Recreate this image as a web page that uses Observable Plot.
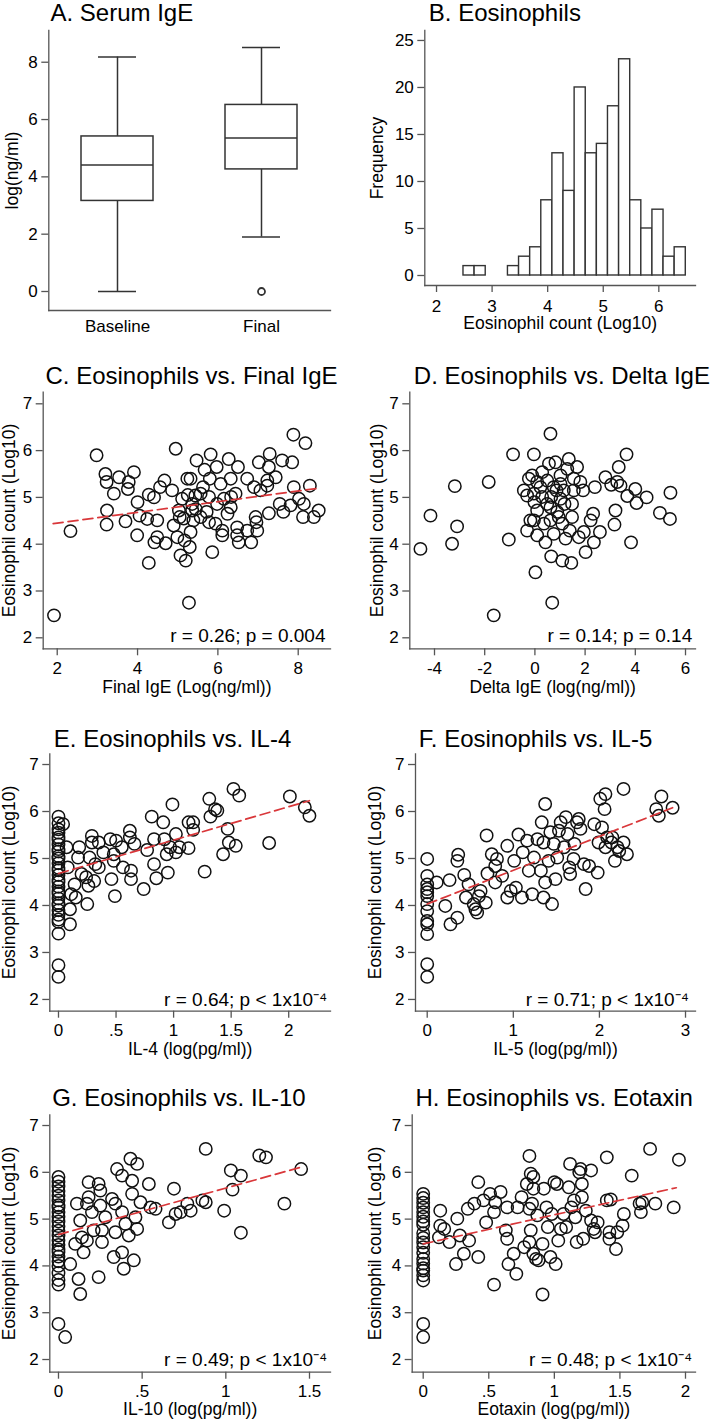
<!DOCTYPE html>
<html><head><meta charset="utf-8">
<script src="https://cdn.jsdelivr.net/npm/d3@7"></script>
<script src="https://cdn.jsdelivr.net/npm/@observablehq/plot@0.6"></script>
<style>
body{margin:0;background:#fff}
#root{position:relative;width:719px;height:1422px;overflow:hidden;background:#fff}
.panel{position:absolute}
.panel svg{display:block;overflow:visible}
</style></head><body><div id="root"></div>
<script>
// ---------- DATA ----------
// A. Serum IgE box plot statistics
const boxCats = ["Baseline", "Final"];
const boxMin = [0, 1.9];
const boxQ1 = [3.16, 4.26];
const boxMed = [4.41, 5.36];
const boxQ3 = [5.41, 6.51];
const boxMax = [8.18, 8.51];
const boxOutCat = ["Final"];
const boxOutVal = [0];
const boxTicks = [0, 2, 4, 6, 8];

// B. Eosinophil histogram (bin edges and frequencies)
const binLo = [2.485, 2.685, 3.285, 3.485, 3.685, 3.885, 4.085, 4.285, 4.485, 4.685, 4.885, 5.085, 5.285, 5.485, 5.685, 5.885, 6.085, 6.285];
const binHi = [2.685, 2.885, 3.485, 3.685, 3.885, 4.085, 4.285, 4.485, 4.685, 4.885, 5.085, 5.285, 5.485, 5.685, 5.885, 6.085, 6.285, 6.485];
const binN  = [1, 1, 1, 2, 3, 8, 13, 9, 20, 13, 14, 18, 23, 8, 5, 7, 2, 3];
const histXTicks = [2, 3, 4, 5, 6];
const histYTicks = [0, 5, 10, 15, 20, 25];

const eosTicks = [2, 3, 4, 5, 6, 7];

// C. Eosinophils vs Final IgE
const cX = [1.92,2.33,2.98,3.20,3.23,3.24,3.23,3.41,3.54,3.76,3.78,3.91,3.70,4.00,3.99,4.05,4.24,4.28,4.28,4.41,4.49,4.42,4.49,4.56,4.67,4.70,4.95,4.86,5.11,5.03,5.05,4.99,5.07,5.20,5.28,5.24,5.32,5.36,5.36,5.39,5.32,5.30,5.17,5.47,5.44,5.63,5.67,5.78,5.80,5.82,5.72,5.78,5.86,5.94,5.97,6.07,6.11,6.11,6.15,6.24,6.27,6.32,6.33,6.44,6.48,6.48,6.50,6.52,6.73,6.73,6.83,6.90,6.94,6.98,6.96,7.02,7.06,7.23,7.23,7.27,7.29,7.27,7.44,7.54,7.60,7.63,7.81,7.85,7.88,7.89,8.02,8.14,8.12,8.18,8.29,8.39,8.51,5.57,5.98,5.57,4.90,6.32,5.25,5.45,5.15];
const cY = [2.48,4.28,5.90,5.50,5.33,4.72,4.42,5.08,5.43,5.18,5.33,5.54,4.49,4.90,4.19,4.61,4.54,5.06,3.60,5.00,4.51,4.04,4.15,5.22,5.36,4.02,6.04,5.15,4.97,4.72,4.58,4.15,3.76,3.65,2.75,5.40,5.40,4.86,4.72,4.51,4.26,3.94,4.08,5.79,5.04,5.22,5.59,5.01,5.40,5.92,4.69,4.47,3.83,4.44,5.65,5.29,4.29,4.19,4.97,4.65,5.82,5.40,5.01,5.08,4.36,4.19,5.65,4.04,5.40,4.29,4.04,5.22,4.58,4.29,4.47,5.75,5.15,5.36,5.25,5.65,5.93,4.66,5.43,4.86,5.79,4.69,4.83,5.75,6.34,5.22,4.97,4.86,4.58,6.16,5.25,4.58,4.72,5.08,4.86,4.58,4.40,4.79,5.05,4.75,4.55];
const cLineX = [1.9, 8.55], cLineY = [4.44, 5.20];
const cXTicks = [2, 4, 6, 8];

// D. Eosinophils vs Delta IgE
const dX = [-4.56,-4.16,-3.30,-3.19,-3.10,-1.84,-1.64,-1.04,-0.87,-0.44,-0.31,-0.24,-0.11,-0.04,-0.18,-0.31,-0.04,-0.02,0.02,0.09,0.22,0.29,0.36,0.42,0.49,0.56,0.62,0.65,0.62,0.62,0.65,0.69,0.75,0.82,0.86,0.89,1.02,1.09,1.09,1.18,1.22,1.29,1.35,1.39,1.45,1.48,1.48,1.55,1.68,1.75,1.81,1.92,1.95,2.02,2.22,2.32,2.35,2.39,2.59,2.81,3.04,3.17,3.21,3.28,3.34,3.41,3.65,3.68,3.83,4.00,4.05,4.45,4.98,5.38,5.40,0.09,0.49,1.02,1.15,0.29,0.75,0.09,-0.04,1.55,0.95,1.02];
const dY = [3.90,4.61,4.01,5.24,4.38,5.33,2.48,4.10,5.92,5.15,5.04,5.40,5.47,5.92,4.51,4.29,5.08,4.90,3.40,4.19,5.22,5.54,4.44,4.04,5.36,5.72,6.36,5.01,4.79,4.51,3.74,2.75,4.22,5.75,5.15,4.69,5.47,3.65,4.44,4.86,4.12,5.61,5.82,4.29,3.60,4.86,4.58,5.40,5.65,4.15,5.33,5.15,4.26,3.83,4.51,4.65,4.04,5.22,4.26,5.43,5.27,4.42,4.72,5.33,5.65,5.25,5.92,5.03,4.04,5.18,4.88,5.00,4.67,4.54,5.10,4.72,4.86,5.29,5.15,5.01,5.22,5.33,4.51,5.15,4.58,4.97];
const dXTicks = [-4, -2, 0, 2, 4, 6];

// E. Eosinophils vs IL-4
const eX = [0,0,0,0,0,0,0,0,0,0,0,0,0,0,0,0,0,0,0,0,0,0,0,0,0,0,0,0,0,0,0.04,0.07,0.08,0.10,0.10,0.11,0.14,0.15,0.17,0.18,0.20,0.24,0.25,0.26,0.27,0.29,0.29,0.31,0.32,0.35,0.35,0.39,0.45,0.46,0.48,0.48,0.49,0.50,0.55,0.56,0.62,0.62,0.63,0.63,0.66,0.74,0.77,0.81,0.83,0.83,0.85,0.91,0.92,0.94,0.95,0.97,0.99,1.02,1.02,1.05,1.13,1.13,1.17,1.17,1.27,1.31,1.32,1.36,1.38,1.43,1.47,1.48,1.52,1.54,1.57,1.83,2.01,2.14,2.18];
const eY = [5.89,5.75,5.62,5.55,5.45,5.40,5.30,5.20,5.15,5.05,5.00,4.90,4.80,4.75,4.65,4.55,4.50,4.40,4.30,4.25,4.15,4.05,4.00,3.90,3.80,3.70,3.65,3.40,2.73,2.48,5.73,5.24,4.81,3.92,3.60,4.24,4.45,4.17,5.02,5.24,4.67,4.60,4.03,4.42,5.02,5.48,5.34,4.52,4.88,5.34,4.81,5.13,5.41,4.56,4.95,5.09,4.20,5.38,5.24,4.81,5.45,5.59,4.74,4.56,5.31,4.35,5.18,5.89,5.41,4.88,4.58,5.77,5.41,5.09,4.70,5.24,6.15,5.52,5.13,5.24,5.22,5.77,5.77,5.61,4.72,6.27,5.89,6.05,6.02,5.09,5.63,5.34,6.48,5.27,6.34,5.33,6.32,6.09,5.91];
const eLineX = [0, 2.18], eLineY = [4.68, 6.23];
const eXTicks = [0, 0.5, 1, 1.5, 2];

// F. Eosinophils vs IL-5
const fX = [0,0,0,0,0,0,0,0,0,0,0,0,0,0.11,0.21,0.26,0.27,0.35,0.35,0.36,0.43,0.45,0.48,0.54,0.56,0.58,0.60,0.62,0.68,0.69,0.70,0.75,0.79,0.79,0.81,0.87,0.93,0.93,0.97,1.01,1.03,1.06,1.10,1.11,1.16,1.18,1.22,1.24,1.28,1.32,1.33,1.35,1.37,1.35,1.37,1.41,1.43,1.45,1.47,1.49,1.51,1.53,1.55,1.59,1.61,1.63,1.65,1.66,1.70,1.71,1.74,1.76,1.78,1.82,1.84,1.88,1.94,1.98,1.99,2.01,2.03,2.06,2.07,2.07,2.09,2.14,2.15,2.18,2.21,2.23,2.28,2.28,2.32,2.66,2.69,2.72,2.85];
const fY = [4.99,4.63,4.45,4.35,4.28,4.20,4.03,3.88,3.67,3.60,3.39,2.75,2.48,4.49,3.99,4.54,3.60,3.74,4.95,5.08,4.65,4.17,4.45,4.03,3.92,3.85,4.20,4.31,4.06,5.49,4.68,5.09,4.49,4.84,4.99,4.63,5.27,4.17,4.31,4.95,4.38,5.51,4.17,5.13,5.38,4.74,4.24,5.02,5.41,4.74,5.77,5.34,6.16,4.17,4.49,4.95,5.56,4.03,5.31,4.56,5.02,5.59,5.77,5.24,5.88,5.52,4.81,4.67,4.99,5.31,5.77,5.84,5.63,4.88,4.35,4.84,5.73,4.70,5.34,6.27,5.66,6.05,6.37,5.24,5.45,5.34,5.45,4.95,5.24,5.16,6.48,5.34,5.09,6.05,5.91,6.32,6.08];
const fLineX = [0, 2.85], fLineY = [4.03, 6.08];
const fXTicks = [0, 1, 2, 3];

// G. Eosinophils vs IL-10
const gX = [0,0,0,0,0,0,0,0,0,0,0,0,0,0,0,0,0,0,0,0,0,0,0,0,0,0.04,0.07,0.10,0.11,0.12,0.13,0.13,0.14,0.15,0.17,0.17,0.18,0.18,0.20,0.21,0.24,0.24,0.25,0.25,0.26,0.26,0.28,0.32,0.33,0.34,0.34,0.35,0.38,0.38,0.38,0.39,0.40,0.42,0.43,0.44,0.44,0.45,0.46,0.47,0.47,0.49,0.54,0.55,0.58,0.66,0.69,0.70,0.73,0.77,0.79,0.86,0.88,0.88,0.99,1.03,1.04,1.09,1.09,1.20,1.24,1.35,1.45];
const gY = [5.90,5.80,5.70,5.60,5.50,5.40,5.30,5.25,5.15,5.05,4.95,4.85,4.75,4.65,4.55,4.45,4.35,4.30,4.20,4.10,4.00,3.85,3.70,3.60,2.76,2.48,4.04,4.47,5.33,3.72,3.40,4.97,4.61,4.29,5.33,4.54,5.79,5.47,5.15,4.76,3.76,5.75,5.61,5.29,4.76,4.51,5.04,5.43,4.19,5.33,4.72,6.07,5.15,4.29,5.93,3.94,4.90,4.65,6.29,5.82,5.54,4.12,5.04,4.79,6.18,5.36,5.75,5.25,5.22,4.93,5.65,5.11,5.15,5.33,5.18,5.40,6.50,5.36,5.18,6.04,5.63,5.93,4.71,6.36,6.32,5.33,6.07];
const gLineX = [0, 1.45], gLineY = [4.67, 6.11];
const gXTicks = [0, 0.5, 1, 1.5];

// H. Eosinophils vs Eotaxin
const hX = [0,0,0,0,0,0,0,0,0,0,0,0,0,0,0,0,0,0,0,0,0,0.13,0.13,0.12,0.16,0.20,0.25,0.26,0.28,0.31,0.34,0.35,0.39,0.42,0.42,0.46,0.48,0.51,0.54,0.54,0.55,0.59,0.64,0.63,0.64,0.65,0.69,0.71,0.72,0.75,0.77,0.79,0.81,0.81,0.81,0.82,0.82,0.83,0.84,0.84,0.84,0.86,0.87,0.88,0.91,0.91,0.92,0.94,0.95,0.97,0.98,1.00,1.01,1.02,1.03,1.05,1.07,1.09,1.11,1.12,1.13,1.15,1.16,1.17,1.19,1.20,1.21,1.21,1.22,1.24,1.28,1.28,1.30,1.31,1.33,1.40,1.40,1.42,1.42,1.43,1.47,1.48,1.52,1.53,1.59,1.65,1.66,1.67,1.73,1.77,1.91,1.95];
const hY = [5.54,5.45,5.35,5.25,5.15,5.05,4.95,4.88,4.70,4.60,4.50,4.40,4.28,4.15,4.05,3.95,3.90,3.80,3.69,2.76,2.48,5.18,4.86,4.61,4.79,4.51,4.04,5.01,4.65,4.26,5.22,4.54,5.33,5.79,4.19,5.40,4.93,5.54,5.15,3.60,5.36,5.58,5.25,4.76,4.58,4.04,4.26,3.83,5.25,5.47,4.40,5.75,4.51,5.22,6.35,5.97,4.76,5.33,4.26,5.65,5.90,4.15,5.08,4.12,3.39,4.47,5.65,5.25,4.83,4.19,5.11,5.79,4.04,5.75,4.54,4.79,5.11,4.83,5.68,6.18,5.25,5.40,5.04,4.51,6.00,6.07,5.75,5.47,4.58,5.18,6.04,4.97,4.79,4.72,4.93,6.32,5.40,4.72,4.58,5.42,4.36,4.72,4.86,5.11,5.93,5.33,5.15,5.36,6.50,5.33,5.25,6.27];
const hLineX = [0, 1.93], hLineY = [4.47, 5.67];
const hXTicks = [0, 0.5, 1, 1.5, 2];

// ---------- STYLE ----------
const FONT = '"Liberation Sans", Arial, Helvetica, sans-serif';
const AX = "#555";
const INK = "#333";
const RED = "#d9373a";
const TICKFS = 17;
const root = document.getElementById("root");
const fmt = d => (d !== 0 && Math.abs(d) < 1) ? String(d).replace("0.", ".") : String(d);

function place(svg, left, top) {
  const div = document.createElement("div");
  div.className = "panel";
  div.style.left = left + "px";
  div.style.top = top + "px";
  div.appendChild(svg);
  root.appendChild(div);
}

function frameMarks() {
  return [
    Plot.frame({anchor: "left", stroke: AX, strokeWidth: 1.3}),
    Plot.frame({anchor: "bottom", stroke: AX, strokeWidth: 1.3})
  ];
}

function textMarks(p) {
  return [
    Plot.text([p.title], {frameAnchor: "top-left", dx: p.tdx, dy: p.tdy, textAnchor: "start", lineAnchor: "bottom", fontSize: 24, fill: "#000"}),
    Plot.text([p.xLabel], {frameAnchor: "bottom", dy: p.xldy ?? 38.5, textAnchor: "middle", lineAnchor: "middle", fontSize: 17.5, fill: "#000"}),
    Plot.text([p.yLabel], {frameAnchor: "left", dx: p.yldx, rotate: -90, textAnchor: "middle", lineAnchor: "middle", fontSize: 17.5, fill: "#000"})
  ];
}

function scatter(p) {
  const pts = p.xs.map((x, i) => ({x, y: p.ys[i]}));
  const marks = [
    ...frameMarks(),
    Plot.axisY(eosTicks, {tickSize: 7, tickPadding: 4, fontSize: TICKFS, stroke: AX, fill: "#000", strokeWidth: 1.3, label: null, tickFormat: fmt}),
    Plot.axisX(p.xTicks, {tickSize: 7, tickPadding: 6, fontSize: TICKFS, stroke: AX, fill: "#000", strokeWidth: 1.3, label: null, tickFormat: fmt}),
    Plot.dot(pts, {x: "x", y: "y", r: 6.2, stroke: "#111", strokeWidth: 1.5, fill: "none"})
  ];
  if (p.lineX) {
    const lp = p.lineX.map((x, i) => ({x, y: p.lineY[i]}));
    marks.push(Plot.line(lp, {x: "x", y: "y", stroke: RED, strokeWidth: 1.7, strokeDasharray: "10,5"}));
  }
  marks.push(...textMarks(p));
  marks.push(Plot.text([p.note], {frameAnchor: "bottom-right", dx: p.ndx, dy: p.ndy, textAnchor: "end", lineAnchor: "bottom", fontSize: 19, fill: "#000"}));
  const svg = Plot.plot({
    width: p.w, height: p.h,
    marginLeft: p.ml, marginRight: p.mr, marginTop: p.mt, marginBottom: p.mb,
    style: {fontFamily: FONT, background: "white", color: "#000", overflow: "visible"},
    x: {domain: p.xDomain},
    y: {domain: p.yDomain},
    marks
  });
  place(svg, p.left, p.top);
}

// ---------- A ----------
{
  const stats = boxCats.map((c, i) => ({cat: c, min: boxMin[i], q1: boxQ1[i], med: boxMed[i], q3: boxQ3[i], max: boxMax[i]}));
  const outs = boxOutCat.map((c, i) => ({cat: c, v: boxOutVal[i]}));
  const svg = Plot.plot({
    width: 360, height: 345, marginLeft: 48.3, marginRight: 30, marginTop: 30, marginBottom: 35,
    style: {fontFamily: FONT, background: "white", color: "#000", overflow: "visible"},
    x: {type: "band", domain: boxCats, paddingInner: 0.5, paddingOuter: 0.2265},
    y: {domain: [-0.663, 9.107]},
    marks: [
      ...frameMarks(),
      Plot.axisY(boxTicks, {tickSize: 7, tickPadding: 4, fontSize: TICKFS, stroke: AX, fill: "#000", strokeWidth: 1.3, label: null}),
      Plot.axisX({tickSize: 0, tickPadding: 9, fontSize: 17, fill: "#000", label: null}),
      Plot.ruleX(stats, {x: "cat", y1: "min", y2: "max", stroke: INK, strokeWidth: 1.5}),
      Plot.barY(stats, {x: "cat", y1: "q1", y2: "q3", fill: "white", stroke: INK, strokeWidth: 1.5}),
      Plot.tickY(stats, {x: "cat", y: "med", stroke: INK, strokeWidth: 1.5}),
      Plot.tickY(stats, {x: "cat", y: "min", stroke: INK, strokeWidth: 1.5, insetLeft: 17, insetRight: 17}),
      Plot.tickY(stats, {x: "cat", y: "max", stroke: INK, strokeWidth: 1.5, insetLeft: 17, insetRight: 17}),
      Plot.dot(outs, {x: "cat", y: "v", r: 3.5, stroke: INK, strokeWidth: 1.8, fill: "none"}),
      Plot.text(["A. Serum IgE"], {frameAnchor: "top-left", dx: 1.7, dy: -9.3, textAnchor: "start", lineAnchor: "bottom", fontSize: 24, fill: "#000"}),
      Plot.text(["log(ng/ml)"], {frameAnchor: "left", dx: -36.6, rotate: -90, textAnchor: "middle", lineAnchor: "middle", fontSize: 17.5, fill: "#000"})
    ]
  });
  place(svg, 0, 0);
}

// ---------- B ----------
{
  const bins = binLo.map((lo, i) => ({x1: lo, x2: binHi[i], n: binN[i]}));
  const svg = Plot.plot({
    width: 359, height: 345, marginLeft: 64.3, marginRight: 24, marginTop: 30, marginBottom: 60,
    style: {fontFamily: FONT, background: "white", color: "#000", overflow: "visible"},
    x: {domain: [1.789, 6.66]},
    y: {domain: [-1.064, 26.06]},
    marks: [
      ...frameMarks(),
      Plot.axisY(histYTicks, {tickSize: 7, tickPadding: 4, fontSize: TICKFS, stroke: AX, fill: "#000", strokeWidth: 1.3, label: null}),
      Plot.axisX(histXTicks, {tickSize: 7, tickPadding: 7, fontSize: TICKFS, stroke: AX, fill: "#000", strokeWidth: 1.3, label: null}),
      Plot.rectY(bins, {x1: "x1", x2: "x2", y1: 0, y2: "n", fill: "white", stroke: INK, strokeWidth: 1.4}),
      ...textMarks({title: "B. Eosinophils", tdx: 4, tdy: -9.3, xLabel: "Eosinophil count (Log10)", xldy: 38.3, yLabel: "Frequency", yldx: -47.6})
    ]
  });
  place(svg, 360, 0);
}

// ---------- C..H ----------
const yLab = "Eosinophil count (Log10)";
scatter({left: 0, top: 345, w: 360, h: 360, ml: 42.7, mr: 30, mt: 46.7, mb: 56.7,
  xDomain: [1.651, 8.804], yDomain: [1.765, 7.248], xTicks: cXTicks, xs: cX, ys: cY, lineX: cLineX, lineY: cLineY,
  title: "C. Eosinophils vs. Final IgE", tdx: 2.3, tdy: -8.4, xLabel: "Final IgE (Log(ng/ml))", yLabel: yLab, yldx: -33.7,
  note: "r = 0.26; p = 0.004", ndx: -5, ndy: -6.6});
scatter({left: 360, top: 345, w: 359, h: 360, ml: 49.3, mr: 24, mt: 46.7, mb: 56.7,
  xDomain: [-4.984, 6.398], yDomain: [1.765, 7.248], xTicks: dXTicks, xs: dX, ys: dY,
  title: "D. Eosinophils vs. Delta IgE", tdx: 4, tdy: -8.4, xLabel: "Delta IgE (log(ng/ml))", yLabel: yLab, yldx: -32.6,
  note: "r = 0.14; p = 0.14", ndx: -3.3, ndy: -6.6});
scatter({left: 0, top: 705, w: 360, h: 358, ml: 49.3, mr: 30, mt: 48.3, mb: 52.3,
  xDomain: [-0.0755, 2.363], yDomain: [1.75, 7.228], xTicks: eXTicks, xs: eX, ys: eY, lineX: eLineX, lineY: eLineY,
  title: "E. Eosinophils vs. IL-4", tdx: 4, tdy: -7.3, xLabel: "IL-4 (log(pg/ml))", yLabel: yLab, yldx: -40,
  note: "r = 0.64; p < 1x10\u207B\u2074", ndx: -3.3, ndy: -5.7});
scatter({left: 360, top: 705, w: 359, h: 358, ml: 55, mr: 24, mt: 48.3, mb: 52.3,
  xDomain: [-0.136, 3.116], yDomain: [1.75, 7.228], xTicks: fXTicks, xs: fX, ys: fY, lineX: fLineX, lineY: fLineY,
  title: "F. Eosinophils vs. IL-5", tdx: 3.3, tdy: -7.3, xLabel: "IL-5 (log(pg/ml))", yLabel: yLab, yldx: -40,
  note: "r = 0.71; p < 1x10\u207B\u2074", ndx: -6.7, ndy: -5.7});
scatter({left: 0, top: 1063, w: 360, h: 359, ml: 49.3, mr: 30, mt: 51.3, mb: 50.3,
  xDomain: [-0.0519, 1.6255], yDomain: [1.729, 7.229], xTicks: gXTicks, xs: gX, ys: gY, lineX: gLineX, lineY: gLineY,
  title: "G. Eosinophils vs. IL-10", tdx: 2.4, tdy: -9.3, xLabel: "IL-10 (log(pg/ml))", xldy: 37.6, yLabel: yLab, yldx: -40,
  note: "r = 0.49; p < 1x10\u207B\u2074", ndx: -3.3, ndy: -6.7});
scatter({left: 360, top: 1063, w: 359, h: 359, ml: 51.7, mr: 24, mt: 51.3, mb: 50.3,
  xDomain: [-0.0839, 2.0763], yDomain: [1.729, 7.229], xTicks: hXTicks, xs: hX, ys: hY, lineX: hLineX, lineY: hLineY,
  title: "H. Eosinophils vs. Eotaxin", tdx: 3.3, tdy: -9.3, xLabel: "Eotaxin (log(pg/ml))", xldy: 37.6, yLabel: yLab, yldx: -36.7,
  note: "r = 0.48; p < 1x10\u207B\u2074", ndx: -3.3, ndy: -6.7});
</script></body></html>
